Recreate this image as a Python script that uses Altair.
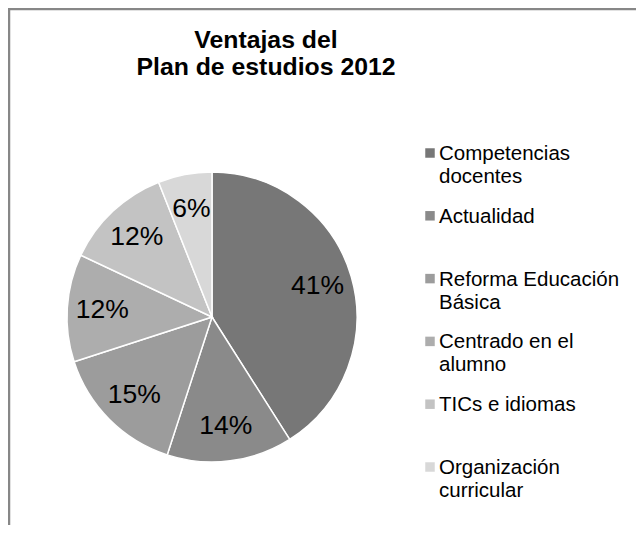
import altair as alt
import pandas as pd

categories = ["Competencias docentes", "Actualidad", "Reforma Educación Básica",
              "Centrado en el alumno", "TICs e idiomas", "Organización curricular"]
legend_labels = ["Competencias\ndocentes", "Actualidad", "Reforma Educación\nBásica",
                 "Centrado en el\nalumno", "TICs e idiomas", "Organización\ncurricular"]
values = [41, 14, 15, 12, 12, 6]
colors = ["#777777", "#8a8a8a", "#9c9c9c", "#adadad", "#c3c3c3", "#d8d8d8"]
title_lines = "Ventajas del\nPlan de estudios 2012"

df = pd.DataFrame({
    "cat": categories,
    "legend": legend_labels,
    "value": values,
    "order": list(range(len(categories))),
})

FONT = "Liberation Sans, Arial, sans-serif"
CX, CY, R = 204, 309, 145
W, H = 628, 517

color = alt.Color("cat:N", scale=alt.Scale(domain=categories, range=colors), legend=None)
theta = alt.Theta("value:Q", stack=True)
order = alt.Order("order:Q")

base = alt.Chart(df)

pie = base.mark_arc(radius=R, stroke="white", strokeWidth=1.5).encode(
    theta=theta, color=color, order=order,
    x=alt.value(CX), y=alt.value(CY),
)

pie_labels = base.transform_calculate(
    lbl="datum.value + '%'"
).mark_text(font=FONT, fontSize=26.5, color="black", radius=110).encode(
    theta=theta, order=order, text="lbl:N",
    x=alt.value(CX), y=alt.value(CY),
)

ypos = alt.Y("cat:N", sort=categories, axis=None,
             scale=alt.Scale(type="point", range=[145, 459], padding=0))

leg_sq = base.mark_square(size=90, opacity=1).encode(
    y=ypos, x=alt.value(422), color=color,
)
leg_txt = base.mark_text(font=FONT, fontSize=20.5, color="black", align="left",
                         baseline="alphabetic", dy=7, lineBreak="\n",
                         lineHeight=23).encode(
    y=ypos, x=alt.value(431), text="legend:N",
)

title = alt.Chart(pd.DataFrame({"t": [title_lines]})).mark_text(
    font=FONT, fontSize=24.8, fontWeight="bold", color="black", align="center",
    baseline="alphabetic", lineBreak="\n", lineHeight=27,
).encode(text="t:N", x=alt.value(258), y=alt.value(40))

one = pd.DataFrame({"a": [0]})
top_border = alt.Chart(one).mark_rule(color="#878787", strokeWidth=2.5).encode(
    x=alt.value(0), x2=alt.value(W), y=alt.value(1))
left_border = alt.Chart(one).mark_rule(color="#878787", strokeWidth=2.5).encode(
    x=alt.value(1), y=alt.value(0), y2=alt.value(H))

chart = alt.layer(pie, pie_labels, leg_sq, leg_txt, title, top_border, left_border).properties(
    width=W, height=H, autosize="none", padding=0,
).configure_view(stroke="transparent", strokeWidth=0).configure(background="white")

chart.save("out.html", embed_options={"renderer": "svg", "actions": False})
